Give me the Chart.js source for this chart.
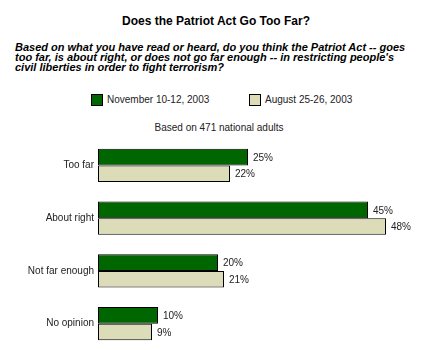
<!DOCTYPE html>
<html>
<head>
<meta charset="utf-8">
<script src="https://cdn.jsdelivr.net/npm/chart.js@4/dist/chart.umd.min.js"></script>
<style>
  html, body { margin: 0; padding: 0; background: #fff; overflow: hidden; }
  body { width: 440px; height: 350px; position: relative; font-family: Arial, "Liberation Sans", sans-serif; color: #000; }
  .title { position: absolute; top: 14px; left: 0; width: 432px; text-align: center; font-weight: bold; font-size: 12px; }
  .question { position: absolute; top: 42px; left: 15px; font-weight: bold; font-style: italic; font-size: 11px; line-height: 10px; }
  .legend { position: absolute; top: 94px; font-size: 10px; color: #222; }
  .legend span.box { display: inline-block; width: 10px; height: 10px; border: 1px solid #000; vertical-align: -3px; margin-right: 4px; }
  .note { position: absolute; top: 122px; left: 0; width: 438px; text-align: center; font-size: 10px; color: #222; }
  #wrap { position: absolute; top: 0; left: 0; width: 440px; height: 360px; }
</style>
</head>
<body>
<div class="title">Does the Patriot Act Go Too Far?</div>
<div class="question">Based on what you have read or heard, do you think the Patriot Act -- goes<br>too far, is about right, or does not go far enough -- in restricting people's<br>civil liberties in order to fight terrorism?</div>
<div class="legend" style="left:91px"><span class="box" style="background:#006600"></span>November 10-12, 2003</div>
<div class="legend" style="left:249px"><span class="box" style="background:#dddcb9"></span>August 25-26, 2003</div>
<div class="note">Based on 471 national adults</div>
<div id="wrap"><canvas id="chart"></canvas></div>
<script>
const categories = ['Too far', 'About right', 'Not far enough', 'No opinion']
const nov2003 = [25, 45, 20, 10]
const aug2003 = [22, 48, 21, 9]

const valueLabels = {
  id: 'valueLabels',
  afterDatasetsDraw(chart) {
    const ctx = chart.ctx
    ctx.save()
    ctx.font = '10px Arial, "Liberation Sans", sans-serif'
    ctx.fillStyle = '#222'
    ctx.textBaseline = 'middle'
    chart.data.datasets.forEach((ds, i) => {
      chart.getDatasetMeta(i).data.forEach((bar, j) => {
        ctx.fillText(ds.data[j] + '%', bar.x + 5, bar.y + 1)
      })
    })
    ctx.restore()
  }
}

new Chart(document.getElementById('chart'), {
  type: 'bar',
  data: {
    labels: categories,
    datasets: [{
      label: 'November 10-12, 2003',
      data: nov2003,
      backgroundColor: '#006600',
      borderColor: '#000',
      borderWidth: 1,
      borderSkipped: false
    }, {
      label: 'August 25-26, 2003',
      data: aug2003,
      backgroundColor: '#dddcb9',
      borderColor: '#000',
      borderWidth: 1,
      borderSkipped: false
    }]
  },
  options: {
    indexAxis: 'y',
    responsive: true,
    maintainAspectRatio: false,
    animation: false,
    layout: { padding: { top: 139, bottom: 5, right: 12, left: 0 } },
    datasets: { bar: { barPercentage: 1, categoryPercentage: 34 / 54 } },
    plugins: { legend: { display: false }, tooltip: { enabled: false } },
    scales: {
      x: { display: false, min: 0, max: 55 },
      y: {
        grid: { display: false, drawTicks: false },
        border: { display: false },
        ticks: { color: '#222', padding: 4, font: { family: 'Arial, "Liberation Sans", sans-serif', size: 10 } },
        afterFit(scale) { scale.width = 98 }
      }
    }
  },
  plugins: [valueLabels]
})
</script>
</body>
</html>
